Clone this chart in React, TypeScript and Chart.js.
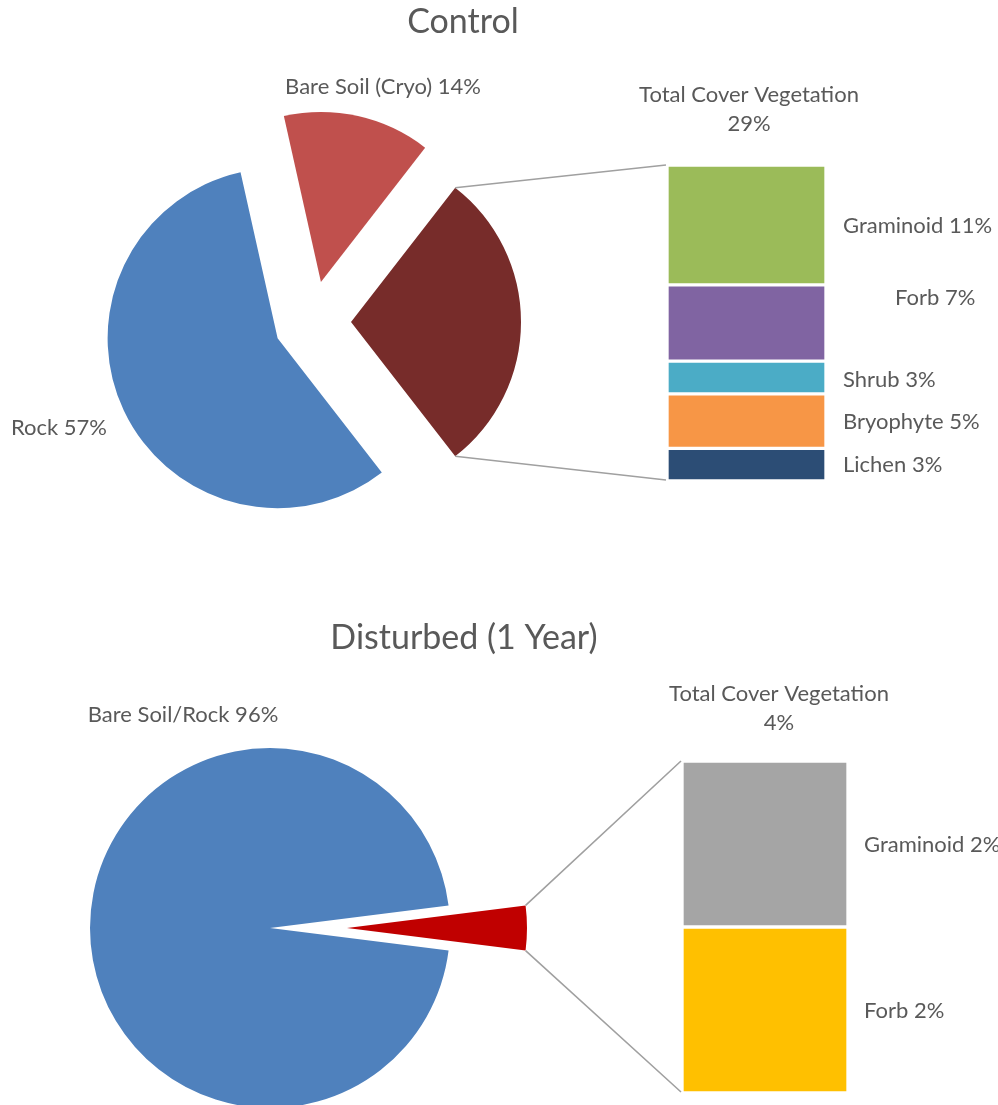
import React, { useEffect, useRef } from 'react';
import { Chart, registerables } from 'chart.js';

Chart.register(...registerables);

const FONT = 'Lato, "Open Sans", sans-serif';
const TEXT_COLOR = '#595959';
const LINE_COLOR = '#A0A0A0';
const W = 998;

// ---------- Control ----------
const controlTitle = 'Control';
const controlPieLabels = ['Rock', 'Bare Soil (Cryo)', 'Total Cover Vegetation'];
const controlPieValues = [57, 14, 29];
const controlPieColors = ['#4F81BD', '#C0504D', '#772C2A'];
const controlBarLabels = ['Graminoid', 'Forb', 'Shrub', 'Bryophyte', 'Lichen'];
const controlBarValues = [11, 7, 3, 5, 3];
const controlBarColors = ['#9BBB59', '#8064A2', '#4BACC6', '#F79646', '#2C4D75'];

// ---------- Disturbed (1 Year) ----------
const disturbedTitle = 'Disturbed (1 Year)';
const disturbedPieLabels = ['Bare Soil/Rock', 'Total Cover Vegetation'];
const disturbedPieValues = [96, 4];
const disturbedPieColors = ['#4F81BD', '#C00000'];
const disturbedBarLabels = ['Graminoid', 'Forb'];
const disturbedBarValues = [2, 2];
const disturbedBarColors = ['#A5A5A5', '#FFC000'];

type LabelPos = { x: number; y: number; align: CanvasTextAlign };

interface PanelLayout {
  height: number;
  titleX: number;
  titleY: number;
  titleSize: number;
  labelSize: number;
  pieCenterX: number;
  pieCenterY: number;
  pieRadius: number;
  explode: number[];
  pieLabelPos: LabelPos[];
  lineHeight: number;
  barLeft: number;
  barRight: number;
  barTop: number;
  barBottom: number;
  barLabelGap: number;
  barLabelShift: [number, number][];
}

interface PanelData {
  title: string;
  pieLabels: string[];
  pieValues: number[];
  pieColors: string[];
  barLabels: string[];
  barValues: number[];
  barColors: string[];
}

const controlData: PanelData = {
  title: controlTitle,
  pieLabels: controlPieLabels,
  pieValues: controlPieValues,
  pieColors: controlPieColors,
  barLabels: controlBarLabels,
  barValues: controlBarValues,
  barColors: controlBarColors,
};

const disturbedData: PanelData = {
  title: disturbedTitle,
  pieLabels: disturbedPieLabels,
  pieValues: disturbedPieValues,
  pieColors: disturbedPieColors,
  barLabels: disturbedBarLabels,
  barValues: disturbedBarValues,
  barColors: disturbedBarColors,
};

const controlLayout: PanelLayout = {
  height: 560,
  titleX: 463,
  titleY: 22,
  titleSize: 34,
  labelSize: 22,
  pieCenterX: 312,
  pieCenterY: 322,
  pieRadius: 170,
  explode: [38, 41, 39],
  pieLabelPos: [
    { x: 11, y: 428, align: 'left' },
    { x: 383, y: 87, align: 'center' },
    { x: 749, y: 95, align: 'center' },
  ],
  lineHeight: 29,
  barLeft: 667,
  barRight: 826,
  barTop: 165,
  barBottom: 481,
  barLabelGap: 17,
  barLabelShift: [[0, 1], [52, -25], [0, 2], [0, 1], [0, 0]],
};

const disturbedLayout: PanelLayout = {
  height: 545,
  titleX: 464,
  titleY: 78,
  titleSize: 34,
  labelSize: 22,
  pieCenterX: 270,
  pieCenterY: 368,
  pieRadius: 180,
  explode: [0, 77],
  pieLabelPos: [
    { x: 183, y: 155, align: 'center' },
    { x: 779, y: 134, align: 'center' },
  ],
  lineHeight: 29,
  barLeft: 682,
  barRight: 848,
  barTop: 201,
  barBottom: 533,
  barLabelGap: 16,
  barLabelShift: [[0, 1], [0, 1]],
};

function centerPadding(c: number, size: number): [number, number] {
  return 2 * c <= size ? [0, size - 2 * c] : [2 * c - size, 0];
}

function Panel({ data, layout, top }: { data: PanelData; layout: PanelLayout; top: number }) {
  const pieRef = useRef<HTMLCanvasElement>(null);
  const barRef = useRef<HTMLCanvasElement>(null);

  useEffect(() => {
    const H = layout.height;
    const [pl, pr] = centerPadding(layout.pieCenterX, W);
    const [pt, pb] = centerPadding(layout.pieCenterY, H);
    const total = data.pieValues.reduce((a, b) => a + b, 0);
    const lastIdx = data.pieValues.length - 1;
    const last = data.pieValues[lastIdx];
    // place the "other" slice centred at 3 o'clock, as in a pie-of-bar chart
    const rotation = 90 - (360 * (total - last / 2)) / total;

    const explodePlugin = {
      id: 'explodeSlices',
      beforeDatasetsDraw(chart: any) {
        const ctx = chart.ctx;
        const meta = chart.getDatasetMeta(0);
        meta.data.forEach((arc: any, i: number) => {
          const mid = (arc.startAngle + arc.endAngle) / 2;
          const d = layout.explode[i] || 0;
          ctx.save();
          ctx.translate(Math.cos(mid) * d, Math.sin(mid) * d);
          arc.draw(ctx);
          ctx.restore();
        });
        return false;
      },
      afterDraw(chart: any) {
        const ctx = chart.ctx;
        ctx.save();
        ctx.fillStyle = TEXT_COLOR;
        ctx.textBaseline = 'middle';
        ctx.textAlign = 'center';
        ctx.font = `${layout.titleSize}px ${FONT}`;
        ctx.fillText(data.title, layout.titleX, layout.titleY);
        ctx.font = `${layout.labelSize}px ${FONT}`;
        data.pieLabels.forEach((lbl, i) => {
          const p = layout.pieLabelPos[i];
          ctx.textAlign = p.align;
          if (i === lastIdx) {
            ctx.fillText(lbl, p.x, p.y);
            ctx.fillText(`${data.pieValues[i]}%`, p.x, p.y + layout.lineHeight);
          } else {
            ctx.fillText(`${lbl} ${data.pieValues[i]}%`, p.x, p.y);
          }
        });
        ctx.restore();
      },
    };

    const pie = new Chart(pieRef.current as HTMLCanvasElement, {
      type: 'pie',
      data: {
        labels: data.pieLabels,
        datasets: [
          {
            data: data.pieValues,
            backgroundColor: data.pieColors,
            borderWidth: 0,
            offset: 0,
          },
        ],
      },
      options: {
        responsive: false,
        animation: false,
        events: [],
        rotation,
        radius: layout.pieRadius,
        layout: { padding: { left: pl, right: pr, top: pt, bottom: pb } },
        plugins: { legend: { display: false }, tooltip: { enabled: false } },
      } as any,
      plugins: [explodePlugin],
    });

    const n = data.barValues.length;
    const order = Array.from({ length: n }, (_, i) => n - 1 - i); // bottom segment first
    const barTotal = data.barValues.reduce((a, b) => a + b, 0);

    const connectorPlugin = {
      id: 'connectors',
      afterDatasetsDraw(chart: any) {
        const ctx = chart.ctx;
        const arc: any = pie.getDatasetMeta(0).data[lastIdx];
        const mid = (arc.startAngle + arc.endAngle) / 2;
        const d = layout.explode[lastIdx] || 0;
        const ox = arc.x + Math.cos(mid) * d;
        const oy = arc.y + Math.sin(mid) * d;
        const R = arc.outerRadius;
        const p1 = [ox + Math.cos(arc.startAngle) * R, oy + Math.sin(arc.startAngle) * R];
        const p2 = [ox + Math.cos(arc.endAngle) * R, oy + Math.sin(arc.endAngle) * R];
        const bottomEl: any = chart.getDatasetMeta(0).data[0];
        const topEl: any = chart.getDatasetMeta(n - 1).data[0];
        const left = bottomEl.x - bottomEl.width / 2 - 1;
        const yTop = topEl.y;
        const yBottom = bottomEl.base - 1;
        ctx.save();
        ctx.strokeStyle = LINE_COLOR;
        ctx.lineWidth = 1.6;
        ctx.beginPath();
        ctx.moveTo(p1[0], p1[1]);
        ctx.lineTo(left, yTop);
        ctx.moveTo(p2[0], p2[1]);
        ctx.lineTo(left, yBottom);
        ctx.stroke();
        ctx.restore();
      },
    };

    const barLabelPlugin = {
      id: 'barLabels',
      afterDraw(chart: any) {
        const ctx = chart.ctx;
        ctx.save();
        ctx.fillStyle = TEXT_COLOR;
        ctx.textBaseline = 'middle';
        ctx.textAlign = 'left';
        ctx.font = `${layout.labelSize}px ${FONT}`;
        order.forEach((src, k) => {
          const el: any = chart.getDatasetMeta(k).data[0];
          const shift = layout.barLabelShift[src] || [0, 0];
          const x = el.x + el.width / 2 + layout.barLabelGap + shift[0];
          const y = (el.y + el.base) / 2 + shift[1];
          ctx.fillText(`${data.barLabels[src]} ${data.barValues[src]}%`, x, y);
        });
        ctx.restore();
      },
    };

    const bar = new Chart(barRef.current as HTMLCanvasElement, {
      type: 'bar',
      data: {
        labels: [data.pieLabels[lastIdx]],
        datasets: order.map((src) => ({
          label: data.barLabels[src],
          data: [data.barValues[src]],
          backgroundColor: data.barColors[src],
          borderColor: '#FFFFFF',
          borderWidth: 2,
          borderSkipped: false,
          barPercentage: 1,
          categoryPercentage: 1,
        })),
      },
      options: {
        responsive: false,
        animation: false,
        events: [],
        layout: {
          padding: {
            left: layout.barLeft,
            right: W - layout.barRight,
            top: layout.barTop,
            bottom: H - layout.barBottom,
          },
        },
        scales: {
          x: { stacked: true, display: false },
          y: { stacked: true, display: false, min: 0, max: barTotal },
        },
        plugins: { legend: { display: false }, tooltip: { enabled: false } },
      } as any,
      plugins: [connectorPlugin, barLabelPlugin],
    });

    return () => {
      bar.destroy();
      pie.destroy();
    };
  }, [data, layout]);

  const canvasStyle: React.CSSProperties = { position: 'absolute', left: 0, top: 0 };
  return (
    <div style={{ position: 'absolute', left: 0, top, width: W, height: layout.height }}>
      <canvas ref={pieRef} width={W} height={layout.height} style={canvasStyle} />
      <canvas ref={barRef} width={W} height={layout.height} style={canvasStyle} />
    </div>
  );
}

export default function App() {
  return (
    <div style={{ position: 'relative', width: W, height: 1105, overflow: 'hidden', background: '#FFFFFF' }}>
      <style>{'html,body{margin:0;padding:0;overflow:hidden;background:#FFFFFF}'}</style>
      <Panel data={controlData} layout={controlLayout} top={0} />
      <Panel data={disturbedData} layout={disturbedLayout} top={560} />
    </div>
  );
}
